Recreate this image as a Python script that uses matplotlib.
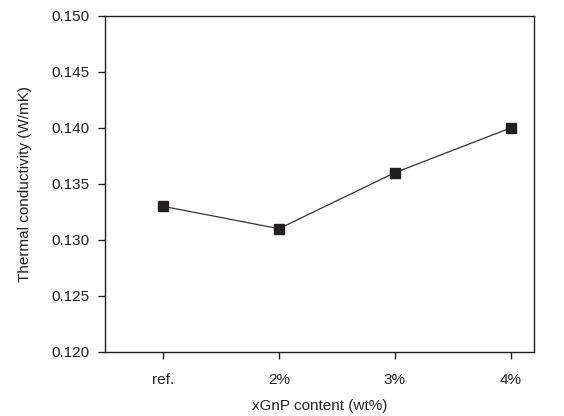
import numpy as np
import matplotlib.pyplot as plt

plt.rcParams['font.family'] = ['Liberation Sans', 'DejaVu Sans']

labels = ["ref.", "2%", "3%", "4%"]
conductivity = [0.133, 0.131, 0.136, 0.140]

x = np.arange(len(labels))

fig = plt.figure(figsize=(5.64, 4.16), dpi=100)
ax = fig.add_axes([0.186, 0.154, 0.761, 0.808])

ax.plot(x, conductivity, color="#333333", lw=0.9, marker="s", ms=7,
        mfc="#231f20", mec="#231f20")

ax.set_xlim(-0.5, 3.2)
ax.set_ylim(0.120, 0.150)
ax.set_yticks(np.arange(0.120, 0.1501, 0.005))
ax.set_yticklabels(["%.3f" % v for v in np.arange(0.120, 0.1501, 0.005)])
ax.set_xticks(x)
ax.set_xticklabels(labels)

ax.tick_params(direction="out", length=5, width=1, labelsize=11,
               colors="#231f20", pad=6)
ax.tick_params(axis="x", pad=10)
for s in ax.spines.values():
    s.set_linewidth(1)
    s.set_color("#231f20")

ax.set_xlabel("xGnP content (wt%)", fontsize=11, color="#231f20", labelpad=9)
ax.set_ylabel("Thermal conductivity (W/mK)", fontsize=11, color="#231f20", labelpad=14)

fig.savefig("out.png", dpi=100)
